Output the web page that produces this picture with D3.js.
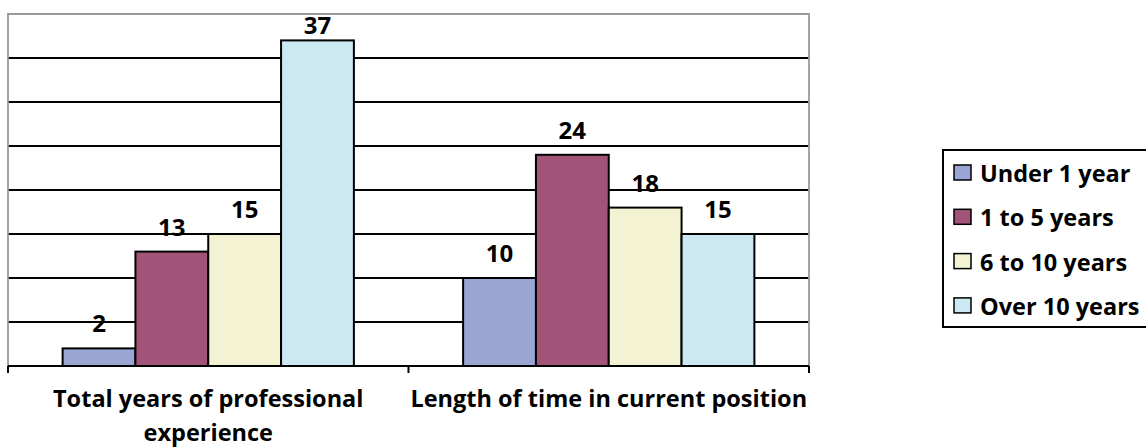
<!DOCTYPE html>
<html>
<head>
<meta charset="utf-8">
<script src="https://cdn.jsdelivr.net/npm/d3@7"></script>
<style>
  html, body { margin: 0; padding: 0; background: #fff; }
  svg { display: block; }
  text { font-family: "Open Sans", sans-serif; font-weight: bold; fill: #000; }
</style>
</head>
<body>
<svg id="chart" width="1146" height="448"></svg>
<script>
// Survey groups (x categories); "\n" marks a line break in the axis label
const categories = ["Total years of professional\nexperience", "Length of time in current position"];
// Experience brackets (one series each)
const seriesNames = ["Under 1 year", "1 to 5 years", "6 to 10 years", "Over 10 years"];
const seriesColors = ["#9ba5d4", "#a25478", "#f3f2d3", "#cce8f3"];
// Counts per category, one array per series
const under1 = [2, 10];
const oneTo5 = [13, 24];
const sixTo10 = [15, 18];
const over10 = [37, 15];
// Value axis gridlines
const yTicks = [0, 5, 10, 15, 20, 25, 30, 35, 40];

const seriesValues = [under1, oneTo5, sixTo10, over10];

const svg = d3.select("#chart");
const plot = { left: 8, right: 809, top: 14, bottom: 366 };

const x0 = d3.scaleBand().domain(categories).range([plot.left, plot.right]).paddingInner(0).paddingOuter(0);
const x1 = d3.scaleBand().domain(seriesNames).range([0, x0.bandwidth()]).paddingInner(0).paddingOuter(0.75);
const y = d3.scaleLinear().domain([0, 40]).range([plot.bottom, plot.top]);

// Horizontal gridlines
svg.append("g")
  .selectAll("line")
  .data(yTicks.filter(t => t > 0 && t < 40))
  .join("line")
  .attr("x1", plot.left).attr("x2", plot.right)
  .attr("y1", d => y(d)).attr("y2", d => y(d))
  .attr("stroke", "#000").attr("stroke-width", 2);

// Plot frame (top, left, right) in grey
svg.append("path")
  .attr("d", `M${plot.left},${plot.bottom}V${y(40)}H${plot.right}V${plot.bottom}`)
  .attr("fill", "none").attr("stroke", "#9a9a9a").attr("stroke-width", 1.8);

// Bars
const groups = svg.append("g").selectAll("g")
  .data(categories)
  .join("g")
  .attr("transform", d => `translate(${x0(d)},0)`);

groups.selectAll("rect")
  .data((c, ci) => seriesNames.map((s, si) => ({ s, v: seriesValues[si][ci], color: seriesColors[si] })))
  .join("rect")
  .attr("x", d => x1(d.s))
  .attr("width", x1.bandwidth())
  .attr("y", d => y(d.v))
  .attr("height", d => y(0) - y(d.v))
  .attr("fill", d => d.color)
  .attr("stroke", "#000").attr("stroke-width", 2);

// Value labels above bars, kept inside the plot area
groups.selectAll("text.val")
  .data((c, ci) => seriesNames.map((s, si) => ({ s, v: seriesValues[si][ci] })))
  .join("text")
  .attr("class", "val")
  .attr("x", d => x1(d.s) + x1.bandwidth() / 2)
  .attr("y", d => Math.max(y(d.v) - 16, plot.top + 20))
  .attr("text-anchor", "middle")
  .style("font-size", "24px")
  .text(d => d.v);

// Category axis
const xAxis = d3.axisBottom(x0).tickSize(0).tickFormat("");
const axisG = svg.append("g").attr("transform", `translate(0,${plot.bottom})`).call(xAxis);
axisG.select(".domain").attr("stroke", "#000").attr("stroke-width", 2).attr("d", `M${plot.left},0H${plot.right}`);
// Tick marks sit on band boundaries
axisG.selectAll("line.sep")
  .data([plot.left, x0(categories[1]), plot.right])
  .join("line")
  .attr("class", "sep")
  .attr("x1", d => d).attr("x2", d => d)
  .attr("y1", 0).attr("y2", 7)
  .attr("stroke", "#000").attr("stroke-width", 2);

// Category labels
svg.append("g").selectAll("text")
  .data(categories)
  .join("text")
  .attr("x", d => x0(d) + x0.bandwidth() / 2)
  .attr("y", 407)
  .attr("text-anchor", "middle")
  .style("font-size", "23.5px")
  .each(function(d) {
    const t = d3.select(this);
    d.split("\n").forEach((line, i) => {
      t.append("tspan")
        .attr("x", x0(d) + x0.bandwidth() / 2)
        .attr("dy", i === 0 ? 0 : 34)
        .text(line);
    });
  });

// Legend (box runs past the right edge of the canvas)
const legend = svg.append("g");
legend.append("rect")
  .attr("x", 943).attr("y", 150)
  .attr("width", 230).attr("height", 177)
  .attr("fill", "#fff").attr("stroke", "#000").attr("stroke-width", 2);

const items = legend.selectAll("g.item")
  .data(seriesNames)
  .join("g")
  .attr("class", "item")
  .attr("transform", (d, i) => `translate(0,${182 + i * 44.3})`);

items.append("rect")
  .attr("x", 954).attr("y", -17)
  .attr("width", 17).attr("height", 15)
  .attr("fill", (d, i) => seriesColors[i])
  .attr("stroke", "#000").attr("stroke-width", 1.5);

items.append("text")
  .attr("x", 980).attr("y", 0)
  .style("font-size", "23.5px")
  .text(d => d);
</script>
</body>
</html>
